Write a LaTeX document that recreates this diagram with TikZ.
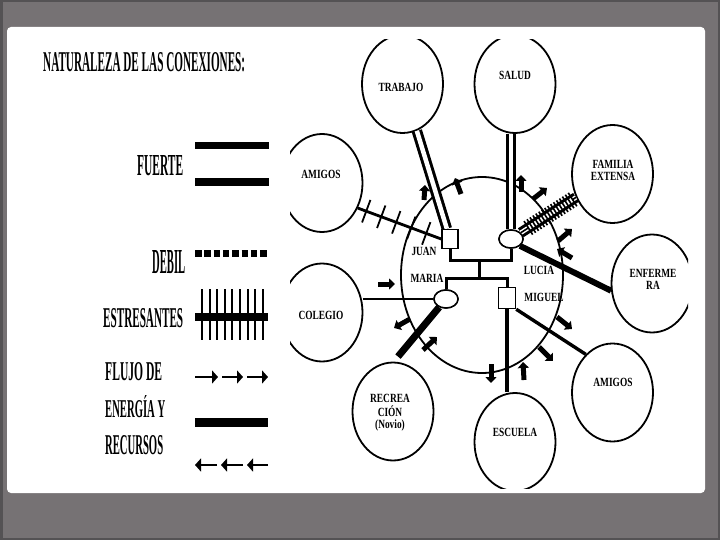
\documentclass[tikz,border=0pt]{standalone}
\usepackage{fontspec}
\setmainfont{Liberation Serif}
\usetikzlibrary{positioning,arrows.meta,calc,shapes.geometric,decorations.pathreplacing}
\definecolor{FrameGray}{RGB}{118,114,116}
\definecolor{FrameDark}{RGB}{84,82,84}
\newcommand{\cond}[1]{\scalebox{0.75}[1]{\def\arraystretch{1}\begin{tabular}{@{}c@{}}#1\end{tabular}}}
\newcommand{\leyenda}[3]{\resizebox{#1}{#2}{#3}}
\tikzset{
  eco/.style={draw,ellipse,line width=1.8pt,minimum width=81pt,minimum height=98pt,inner sep=0pt},
  hogar/.style={draw,ellipse,line width=1.8pt,minimum width=162pt,minimum height=196pt,inner sep=0pt},
  lbl/.style={font=\fontsize{12.5}{12.5}\selectfont\bfseries,inner sep=0pt},
  leg/.style={font=\bfseries,inner sep=0pt,anchor=north west},
  hombre/.style={draw,fill=white,line width=1.5pt,minimum width=16pt,minimum height=19pt,inner sep=0pt},
  mujer/.style={draw,fill=white,ellipse,line width=1.5pt,minimum width=24pt,minimum height=18pt,inner sep=0pt},
  lazo/.style={line width=3pt},
  fuerte/.style={line width=3pt,double,double distance=4.5pt},
  debil/.style={line width=7pt,dash pattern=on 6.5pt off 2.8pt},
  tenue/.style={line width=1.5pt},
  medio/.style={line width=3.4pt},
  energia/.style={line width=6pt},
  estres/.style={line width=2.8pt,
    postaction={draw,decorate,line width=1.8pt,
      decoration={ticks,segment length=16pt,amplitude=12pt,pre length=9pt,post length=6pt}}},
  rayado/.style={draw,decorate,line width=1.6pt,
    decoration={ticks,segment length=3.5pt,amplitude=8pt,pre length=4pt,post length=6pt}},
  flujo/.style={line width=5pt,-{Triangle[length=6pt,width=11pt]}},
  legflecha/.style={line width=2.2pt,-{Triangle[length=6pt,width=13pt]}}
}

\begin{document}
\begin{tikzpicture}[x=1pt,y=-1pt]
  \useasboundingbox (0,0) rectangle (720,540);
  \fill[FrameGray] (0,0) rectangle (720,540);
  \draw[FrameDark,line width=5pt] (0,0) rectangle (720,540);
  \fill[white,rounded corners=4pt] (7,27) rectangle (705,493);

  % leyenda
  \node[leg] (titulo) at (43,52) {\leyenda{202pt}{19pt}{NATURALEZA DE LAS CONEXIONES:}};
  \node[leg] (fuerteT) at (137,155) {\leyenda{46pt}{20pt}{FUERTE}};
  \node[leg] (debilT) at (152,250) {\leyenda{33pt}{23pt}{DEBIL}};
  \node[leg] (estresT) at (103,308) {\leyenda{80pt}{19pt}{ESTRESANTES}};
  \node[leg] (flujoT) at (105,362) {\leyenda{57pt}{18pt}{FLUJO DE}};
  \node[leg] (energiaT) at (105,395) {\leyenda{60pt}{22pt}{ENERGÍA Y}};
  \node[leg] (recursosT) at (105,435) {\leyenda{58pt}{19pt}{RECURSOS}};

  \draw[line width=7.5pt] (195,145.5) -- (269,145.5);
  \draw[line width=7.5pt] (195,182) -- (269,182);
  \draw[debil] (195,253.5) -- (268,253.5);
  \draw[line width=8pt] (195,317) -- (268,317);
  \foreach \i in {0,...,8}
    \draw[line width=2pt] ({202+7.6*\i},289) -- ({202+7.6*\i},340);
  \foreach \xa/\xb in {195/218,222/243,247/268}
    \draw[legflecha] (\xa,377) -- (\xb,377);
  \draw[line width=9.5pt] (195,422.5) -- (268,422.5);
  \foreach \xa/\xb in {217/195,243/221,268/247}
    \draw[legflecha] (\xa,465) -- (\xb,465);

  % ecomapa
  \begin{scope}
    \clip (290,40) rectangle (688,488);
    \node[hogar] (hogar) at (482,275) {};
    \node[eco] (trabajo) at (402.5,84) {};
    \node[eco] (salud) at (515,84) {};
    \node[eco] (amigosA) at (322,183) {};
    \node[eco] (familia) at (612.5,174) {};
    \node[eco] (enfermera) at (652,283.5) {};
    \node[eco] (colegio) at (322,312.5) {};
    \node[eco] (recreacion) at (393,411.5) {};
    \node[eco] (escuela) at (515,442) {};
    \node[eco] (amigosB) at (612.5,392.5) {};

    \node[lbl] (trabajoT) at (401,89) {\cond{TRABAJO}};
    \node[lbl] (saludT) at (515,77) {\cond{SALUD}};
    \node[lbl] (amigosAT) at (321,176) {\cond{AMIGOS}};
    \node[lbl] (familiaT) at (613,172) {\cond{FAMILIA\\EXTENSA}};
    \node[lbl] (enfermeraT) at (653,281) {\cond{ENFERME\\RA}};
    \node[lbl] (colegioT) at (321,317) {\cond{COLEGIO}};
    \node[lbl] (recreacionT) at (390,413) {\cond{RECREA\\CIÓN\\(Novio)}};
    \node[lbl] (escuelaT) at (515,434) {\cond{ESCUELA}};
    \node[lbl] (amigosBT) at (613,384) {\cond{AMIGOS}};

    \coordinate (union) at (479,260);
    \coordinate (hijos) at (479,278);
    \node[hombre] (juan) at (450,239) {};
    \node[mujer] (lucia) at (511,239) {};
    \node[mujer] (maria) at (446,299) {};
    \node[hombre,minimum width=17pt,minimum height=21pt] (miguel) at (507,298) {};

    \draw[fuerte] (trabajo) -- (juan);
    \draw[fuerte] (lucia) -- (lucia |- salud.south);
    \draw[fuerte] (familia) -- (lucia);
    \draw[rayado] (familia) -- (lucia);
    \draw[energia] (lucia.south east) -- (enfermera.190);
    \draw[estres] (amigosA.-35) -- (juan.west);
    \draw[tenue] (maria.west) -- (colegio.east |- maria.west);
    \draw[line width=7pt] ($(recreacion.north)+(5,-5)$) -- (maria);
    \draw[medio] (miguel.south) -- (miguel.south |- escuela.north);
    \draw[medio] (miguel.south east) -- (amigosB.125);

    \draw[lazo] (juan.south) |- (union) -| (lucia.south);
    \draw[lazo] (union) -- (hijos);
    \draw[lazo] (maria.north) |- (hijos) -| (miguel.north);
    \node[hombre] at (juan) {};
    \node[mujer] at (lucia) {};
    \node[mujer] at (maria) {};
    \node[hombre,minimum width=17pt,minimum height=21pt] at (miguel) {};

    \node[lbl] (juanT) at (424,253) {\cond{JUAN}};
    \node[lbl] (mariaT) at (427,280) {\cond{MARIA}};
    \node[lbl] (luciaT) at (539,272) {\cond{LUCIA}};
    \node[lbl] (miguelT) at (544,299) {\cond{MIGUEL}};

    \foreach \xa/\ya/\xb/\yb in {424/200/425/185,461/194/455/178,521/192/521/175,
        533/199/547/188,558/241/572/229,572/258/557/249,378/284/395/284,
        410/319/394/328,423/350/437/337,491/364/491/383,524/380/523/362,
        539/347/553/361,557/317/572/329}
      \draw[flujo] (\xa,\ya) -- (\xb,\yb);
  \end{scope}
\end{tikzpicture}
\end{document}
